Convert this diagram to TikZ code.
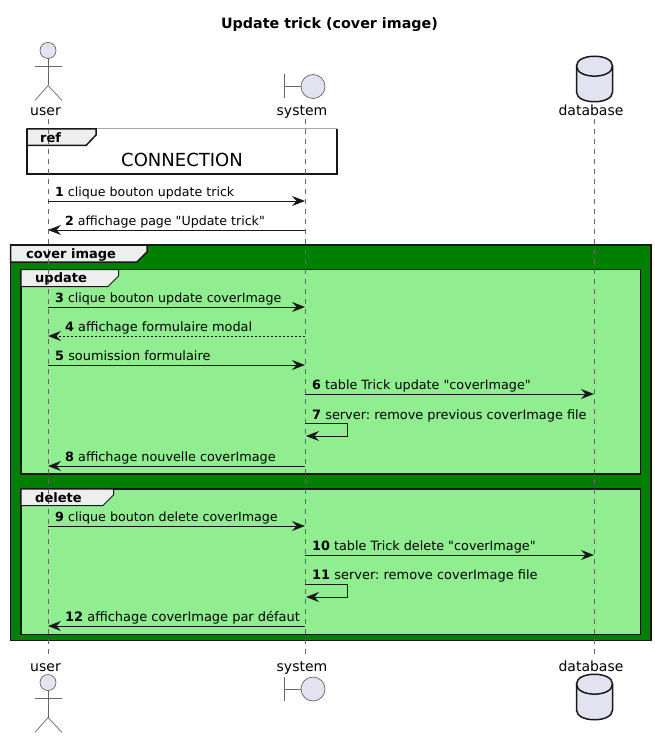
\documentclass[tikz,border=0pt]{standalone}
\usepackage{fontspec}
\setmainfont{DejaVu Sans}
\newfontfamily\plainfont{DejaVu Sans}
\usetikzlibrary{arrows.meta}
\definecolor{partfill}{HTML}{E2E2F0}
\definecolor{partline}{HTML}{181818}
\definecolor{lifecol}{HTML}{666666}
\definecolor{tabfill}{HTML}{EEEEEE}
\definecolor{outergreen}{HTML}{008000}
\definecolor{innergreen}{HTML}{90EE90}
\tikzset{
  x=1pt,y=-1pt,
  msgarrow/.style={draw=partline,line width=1pt,-{Stealth[length=13pt,width=10pt,inset=4.5pt]}},
  msgdash/.style={msgarrow,dash pattern=on 2pt off 2pt},
  selfline/.style={msgarrow,rounded corners=0pt},
  msglabel/.style={anchor=base west,inner sep=0pt,yshift=-0.7pt,text=black,font=\plainfont\frenchspacing\fontsize{#1}{15}\selectfont},
  partlabel/.style={anchor=base,inner sep=0pt,text=black,font=\fontsize{14}{16}\selectfont},
  lifeline/.style={draw=lifecol,line width=0.6pt,dash pattern=on 5pt off 5pt},
  framebox/.style={draw=partline,line width=1.5pt},
  tabbox/.style={draw=partline,line width=1.5pt,fill=tabfill},
  tablabel/.style={anchor=base west,inner sep=0pt,text=black,font=\fontsize{13}{15}\selectfont\bfseries},
  iconline/.style={draw=lifecol,line width=0.7pt},
  iconfill/.style={draw=lifecol,line width=0.7pt,fill=partfill},
  dbshape/.style={draw=partline,line width=1.5pt,fill=partfill},
}
\newcommand{\actoricon}[1]{%
  \begin{scope}[yshift=-#1pt]
    \draw[iconfill] (48,50.5) circle[radius=8];
    \draw[iconline] (48,58.5) -- (48,85.5);
    \draw[iconline] (35,66.5) -- (62,66.5);
    \draw[iconline] (35,100.5) -- (48,85.5) -- (62,100.5);
  \end{scope}}
\newcommand{\boundicon}[1]{%
  \begin{scope}[yshift=-#1pt]
    \draw[iconline] (284,74.5) -- (284,98.5);
    \draw[iconline] (284,86.5) -- (301,86.5);
    \draw[iconfill] (313,86.5) circle[radius=12];
  \end{scope}}
\newcommand{\dbicon}[1]{%
  \begin{scope}[yshift=-#1pt]
    \draw[dbshape] (576.5,66) -- (576.5,92) .. controls (576.5,105) and (612.5,105) .. (612.5,92) -- (612.5,66) .. controls (612.5,53) and (576.5,53) .. (576.5,66) -- cycle;
    \draw[dbshape,fill=none] (576.5,66) .. controls (576.5,79.5) and (612.5,79.5) .. (612.5,66);
  \end{scope}}
\begin{document}
\begin{tikzpicture}
\useasboundingbox[fill=white] (0,0) rectangle (655,738);
% title
\node[anchor=base,inner sep=0pt,font=\fontsize{14.3}{16}\selectfont\bfseries] (title) at (329.5,28.5) {Update trick (cover image)};
% frames
\fill[white] (27,129) rectangle (337,174);
\draw[draw=gray!70,line width=1pt] (27,129) -- (337,129);
\draw[framebox] (27,129) -- (27,174) -- (337,174) -- (337,129);
\draw[tabbox] (27,129) -- (96,129) -- (96,135) -- (86,145.5) -- (27,145.5) -- cycle;
\draw[framebox,fill=outergreen] (10.5,245) rectangle (651,640.5);
\draw[tabbox] (10.5,245) -- (147,245) -- (147,252) -- (137,262) -- (10.5,262) -- cycle;
\draw[framebox,fill=innergreen] (21,269.5) rectangle (640.5,474);
\draw[tabbox,line width=1pt] (21,269.5) -- (118.5,269.5) -- (118.5,276) -- (108,286.5) -- (21,286.5) -- cycle;
\draw[framebox,fill=innergreen] (21,489) rectangle (640.5,634.5);
\draw[tabbox,line width=1pt] (21,489) -- (113.5,489) -- (113.5,495) -- (103,505.5) -- (21,505.5) -- cycle;
% participants
\actoricon{0}
\actoricon{632}
\boundicon{0}
\boundicon{602.5}
\dbicon{0}
\dbicon{618}
\node[partlabel] (usertop) at (45.5,115.5) {user};
\node[partlabel] (systop) at (302,115.5) {system};
\node[partlabel] (dbtop) at (591,115.5) {database};
\node[partlabel] (userbot) at (45.5,671.5) {user};
\node[partlabel] (sysbot) at (302,671.5) {system};
\node[partlabel] (dbbot) at (591,671.5) {database};
% lifelines
\coordinate (ut) at (48,119); \coordinate (ub) at (48,654);
\coordinate (st) at (305,119); \coordinate (sb) at (305,654);
\coordinate (dt) at (594,119); \coordinate (db) at (594,654);
\draw[lifeline] (ut) -- (ub);
\draw[lifeline] (st) -- (sb);
\draw[lifeline] (dt) -- (db);
% frame texts
\node[tablabel] (reftab) at (40,143) {ref};
\node[anchor=base,inner sep=0pt,font=\fontsize{18}{20}\selectfont] (conn) at (182,167) {CONNECTION};
\node[tablabel] (covertab) at (26,258) {cover image};
\node[tablabel] (updatetab) at (35,282) {update};
\node[tablabel] (deletetab) at (35,502) {delete};
% anchor points of the messages
\foreach \n/\y in {1/201,2/230,3/307,4/336,5/365,6/394,7/423,8/466,9/526,10/555,11/584,12/626}{
  \coordinate (u\n) at (48,\y);
  \coordinate (s\n) at (305,\y);
  \coordinate (d\n) at (594,\y);
}
\coordinate (c7a) at (347.5,423.5); \coordinate (c7b) at (347.5,436); \coordinate (s7b) at (306,436); \coordinate (s7a) at (305,423.5);
\coordinate (c11a) at (347.5,584.5); \coordinate (c11b) at (347.5,597); \coordinate (s11b) at (306,597); \coordinate (s11a) at (305,584.5);
% messages
\draw[msgarrow] (u1) -- (s1);
\draw[msgarrow] (s2) -- (u2);
\draw[msgarrow] (u3) -- (s3);
\draw[msgdash] (s4) -- (u4);
\draw[msgarrow] (u5) -- (s5);
\draw[msgarrow] (s6) -- (d6);
\draw[selfline] (s7a) -- (c7a) -- (c7b) -- (s7b);
\draw[msgarrow] (s8) -- (u8);
\draw[msgarrow] (u9) -- (s9);
\draw[msgarrow] (s10) -- (d10);
\draw[selfline] (s11a) -- (c11a) -- (c11b) -- (s11b);
\draw[msgarrow] (s12) -- (u12);
\node[msglabel=12.6] (m1) at (55,196) {\textbf{1} clique bouton update trick};
\node[msglabel=12.6] (m2) at (65,225) {\textbf{2} affichage page "Update trick"};
\node[msglabel=12.63] (m3) at (55,302) {\textbf{3} clique bouton update coverImage};
\node[msglabel=12.87] (m4) at (65,331) {\textbf{4} affichage formulaire modal};
\node[msglabel=12.88] (m5) at (55,360) {\textbf{5} soumission formulaire};
\node[msglabel=12.75] (m6) at (312,389) {\textbf{6} table Trick update "coverImage"};
\node[msglabel=12.9] (m7) at (312,419) {\textbf{7} server: remove previous coverImage file};
\node[msglabel=12.8] (m8) at (65,461) {\textbf{8} affichage nouvelle coverImage};
\node[msglabel=12.69] (m9) at (55,521) {\textbf{9} clique bouton delete coverImage};
\node[msglabel=12.8] (m10) at (312,550) {\textbf{10} table Trick delete "coverImage"};
\node[msglabel=12.97] (m11) at (312,579) {\textbf{11} server: remove coverImage file};
\node[msglabel=12.97] (m12) at (65,621) {\textbf{12} affichage coverImage par défaut};
\end{tikzpicture}
\end{document}
